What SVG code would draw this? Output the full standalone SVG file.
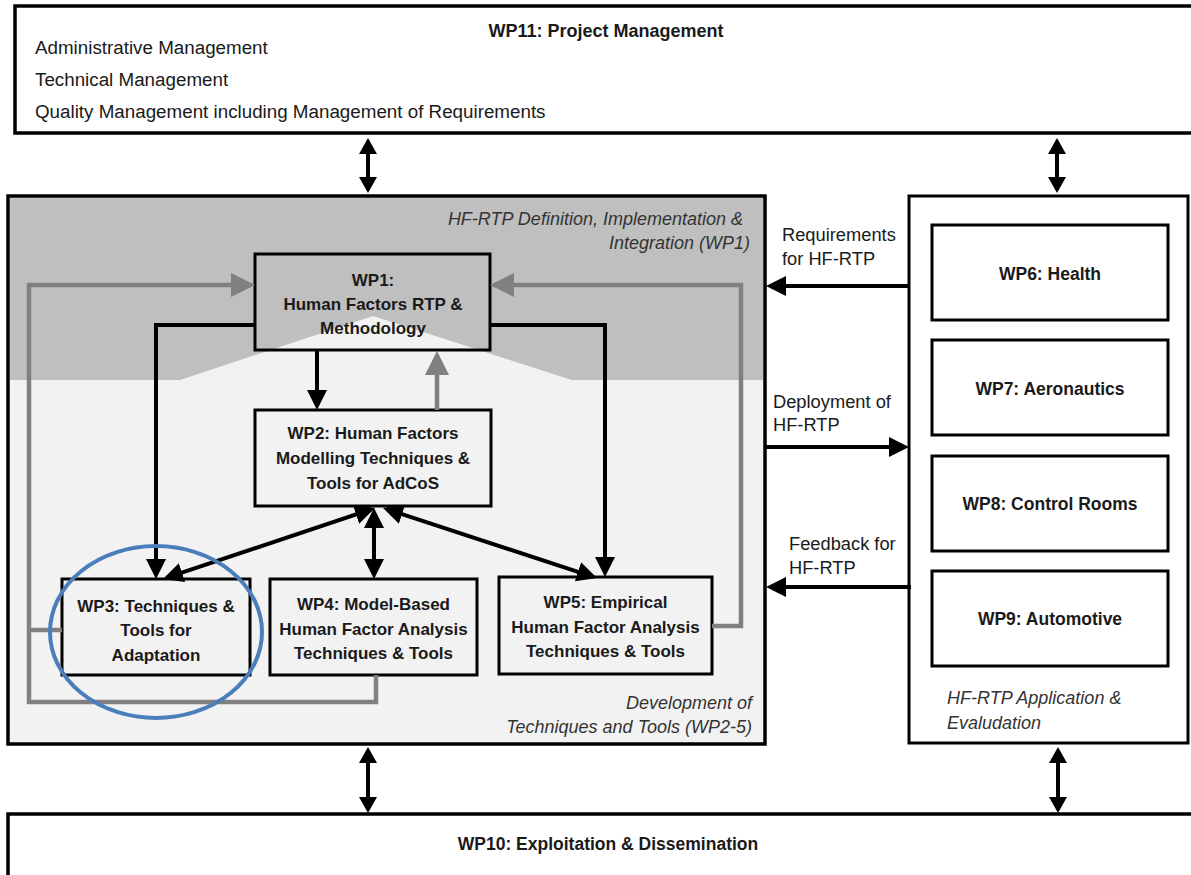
<svg xmlns="http://www.w3.org/2000/svg" width="1191" height="875" viewBox="0 0 1191 875">
<defs>
<style>
.box{fill:none;stroke:#000;stroke-width:3}
.outer{fill:#fff;stroke:#000;stroke-width:3.5}
.t{font-family:"Liberation Sans",Arial,sans-serif;font-size:18.8px;fill:#1a1a1a}
.b{font-family:"Liberation Sans",Arial,sans-serif;font-size:17px;font-weight:bold;fill:#1a1a1a;text-anchor:middle}
.i{font-family:"Liberation Sans",Arial,sans-serif;font-size:18px;font-style:italic;fill:#333}
.blk{fill:none;stroke:#000;stroke-width:4}
.gry{fill:none;stroke:#808080;stroke-width:4.5}
</style>
<marker id="ab" viewBox="0 0 20 20" refX="16" refY="10" markerWidth="20" markerHeight="20" markerUnits="userSpaceOnUse" orient="auto-start-reverse"><path d="M0,0 L20,10 L0,20 z" fill="#000"/></marker>
<marker id="ag" viewBox="0 0 24 24" refX="20" refY="12" markerWidth="24" markerHeight="24" markerUnits="userSpaceOnUse" orient="auto-start-reverse"><path d="M0,0 L24,12 L0,24 z" fill="#808080"/></marker>
<marker id="as" viewBox="0 0 16 18" refX="13" refY="9" markerWidth="16" markerHeight="18" markerUnits="userSpaceOnUse" orient="auto-start-reverse"><path d="M0,0 L16,9 L0,18 z" fill="#000"/></marker>
</defs>
<rect width="1191" height="875" fill="#fff"/>

<g id="wp11">
<rect class="outer" x="15" y="6" width="1190" height="127"/>
<text class="b" x="606" y="37" style="font-size:18px">WP11: Project Management</text>
<text class="t" x="35" y="54">Administrative Management</text>
<text class="t" x="35" y="86">Technical Management</text>
<text class="t" x="35" y="118">Quality Management including Management of Requirements</text>
</g>

<g id="main-area">
<rect x="8" y="196" width="757" height="548" fill="#f2f2f2" stroke="none"/>
<polygon points="10,198 763,198 763,380 572,380 373,316 180,380 10,380" fill="#bfbfbf"/>
<rect x="8" y="196" width="757" height="548" fill="none" stroke="#000" stroke-width="3.5"/>
<text class="i" x="743" y="225" text-anchor="end">HF-RTP Definition, Implementation &amp;</text>
<text class="i" x="750" y="249" text-anchor="end">Integration (WP1)</text>
<text class="i" x="752" y="709" text-anchor="end">Development of</text>
<text class="i" x="752" y="733" text-anchor="end">Techniques and Tools (WP2-5)</text>
</g>

<g id="app-area">
<rect x="909" y="196" width="279" height="547" fill="#fff" stroke="#000" stroke-width="3"/>
<text class="i" x="947" y="704">HF-RTP Application &amp;</text>
<text class="i" x="947" y="729">Evaludation</text>
</g>

<g id="wp10">
<rect class="outer" x="8" y="814" width="1200" height="80"/>
<text class="b" x="608" y="850" style="font-size:17.5px">WP10: Exploitation &amp; Dissemination</text>
</g>

<g id="wp1">
<rect class="box" x="255" y="254" width="235" height="96"/>
<text class="b" x="373" y="286">WP1:</text>
<text class="b" x="373" y="310">Human Factors RTP &amp;</text>
<text class="b" x="373" y="334">Methodology</text>
</g>
<g id="wp2">
<rect class="box" x="255" y="410" width="236" height="96"/>
<text class="b" x="373" y="439">WP2: Human Factors</text>
<text class="b" x="373" y="464">Modelling Techniques &amp;</text>
<text class="b" x="373" y="489">Tools for AdCoS</text>
</g>
<g id="wp3">
<rect class="box" x="62" y="579" width="188" height="96"/>
<text class="b" x="156" y="612">WP3: Techniques &amp;</text>
<text class="b" x="156" y="636">Tools for</text>
<text class="b" x="156" y="661">Adaptation</text>
</g>
<g id="wp4">
<rect class="box" x="270" y="579" width="207" height="96"/>
<text class="b" x="373.5" y="610">WP4: Model-Based</text>
<text class="b" x="373.5" y="635">Human Factor Analysis</text>
<text class="b" x="373.5" y="659">Techniques &amp; Tools</text>
</g>
<g id="wp5">
<rect class="box" x="499" y="577" width="213" height="97"/>
<text class="b" x="605.5" y="608">WP5: Empirical</text>
<text class="b" x="605.5" y="633">Human Factor Analysis</text>
<text class="b" x="605.5" y="657">Techniques &amp; Tools</text>
</g>

<g id="wp6">
<rect class="box" x="932" y="225" width="236" height="95"/>
<text class="b" x="1050" y="280" style="font-size:17.5px">WP6: Health</text>
</g>
<g id="wp7">
<rect class="box" x="932" y="340" width="236" height="95"/>
<text class="b" x="1050" y="395" style="font-size:17.5px">WP7: Aeronautics</text>
</g>
<g id="wp8">
<rect class="box" x="932" y="456" width="236" height="95"/>
<text class="b" x="1050" y="510" style="font-size:17.5px">WP8: Control Rooms</text>
</g>
<g id="wp9">
<rect class="box" x="932" y="571" width="236" height="95"/>
<text class="b" x="1050" y="625" style="font-size:17.5px">WP9: Automotive</text>
</g>

<g id="connectors">
<path class="gry" d="M376 675 V702 H29 V285 H251" marker-end="url(#ag)"/>
<path class="gry" d="M62 630 H29"/>
<path class="gry" d="M712 626 H741 V285 H494" marker-end="url(#ag)"/>
<path class="gry" d="M437 410 V355" marker-end="url(#ag)"/>
<path class="blk" d="M317 350 V406" marker-end="url(#ab)"/>
<path class="blk" d="M255 325 H156 V575" marker-end="url(#ab)"/>
<path class="blk" d="M490 325 H605 V573" marker-end="url(#ab)"/>
<path class="blk" d="M371.2 509.3 L166.8 577.7" marker-start="url(#ab)" marker-end="url(#ab)"/>
<path class="blk" d="M374 512 V575" marker-start="url(#ab)" marker-end="url(#ab)"/>
<path class="blk" d="M386.8 509.2 L593.2 576.8" marker-start="url(#ab)" marker-end="url(#ab)"/>
<path class="blk" d="M909 286 H770" marker-end="url(#ab)"/>
<path class="blk" d="M765 447 H905" marker-end="url(#ab)"/>
<path class="blk" d="M911 587 H770" marker-end="url(#ab)"/>
<path class="blk" d="M368 141 V190" marker-start="url(#as)" marker-end="url(#as)"/>
<path class="blk" d="M1057 141 V190" marker-start="url(#as)" marker-end="url(#as)"/>
<path class="blk" d="M368 750 V810" marker-start="url(#as)" marker-end="url(#as)"/>
<path class="blk" d="M1058 750 V810" marker-start="url(#as)" marker-end="url(#as)"/>
</g>

<g id="labels">
<text class="t" x="782" y="241" style="font-size:18.3px">Requirements</text>
<text class="t" x="782" y="265" style="font-size:18.3px">for HF-RTP</text>
<text class="t" x="773" y="408" style="font-size:18.3px">Deployment of</text>
<text class="t" x="773" y="431" style="font-size:18.3px">HF-RTP</text>
<text class="t" x="789" y="550" style="font-size:18.3px">Feedback for</text>
<text class="t" x="789" y="574" style="font-size:18.3px">HF-RTP</text>
</g>

<g id="highlight">
<ellipse cx="156" cy="632" rx="106" ry="86" fill="none" stroke="#4a7ebb" stroke-width="4"/>
</g>
</svg>
